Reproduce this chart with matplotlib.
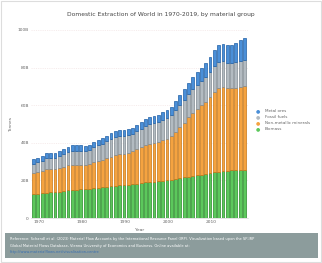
import matplotlib
matplotlib.use("Agg")
import matplotlib.pyplot as plt
from matplotlib.patches import Rectangle
from matplotlib.ticker import FuncFormatter
import numpy as np

years = list(range(1970, 2020))
biomass = [12.8, 13.0, 13.1, 13.5, 13.6, 13.8, 14.0, 14.3, 14.7, 14.9,
           15.0, 15.3, 15.5, 15.6, 16.0, 16.2, 16.4, 16.6, 16.8, 17.2,
           17.5, 17.6, 17.8, 17.9, 18.3, 18.6, 19.0, 19.2, 19.4, 19.6,
           19.8, 20.1, 20.4, 20.8, 21.3, 21.6, 22.0, 22.3, 22.8, 23.0,
           23.4, 24.0, 24.3, 24.7, 25.0, 25.1, 25.3, 25.4, 25.5, 25.7]
non_metallic = [11.2, 11.5, 12.0, 12.6, 12.4, 12.3, 12.6, 12.9, 13.3, 13.4,
                13.3, 13.1, 12.9, 13.2, 13.8, 14.2, 14.7, 15.2, 15.8, 16.2,
                16.4, 16.5, 16.9, 17.6, 18.4, 19.0, 19.6, 20.2, 20.5, 20.9,
                21.5, 22.0, 23.0, 25.0, 27.0, 29.0, 31.5, 33.6, 35.0, 37.0,
                38.5, 40.5, 42.8, 44.5, 44.6, 44.0, 43.8, 44.0, 44.2, 44.3]
fossil = [4.9, 5.1, 5.4, 5.8, 5.9, 6.0, 6.5, 6.9, 7.2, 7.6,
          7.6, 7.4, 7.3, 7.3, 7.8, 8.2, 8.5, 8.9, 9.4, 9.7,
          9.8, 9.6, 9.4, 9.4, 9.6, 9.9, 10.2, 10.5, 10.5, 10.6,
          10.9, 11.2, 11.4, 11.7, 12.0, 12.3, 12.5, 12.7, 12.9, 12.8,
          13.2, 13.3, 13.6, 13.8, 13.8, 13.6, 13.3, 13.5, 14.0, 14.2]
metal = [2.5, 2.5, 2.6, 2.8, 2.8, 2.7, 2.7, 2.7, 2.7, 2.8,
         2.8, 2.8, 2.7, 2.7, 2.8, 2.9, 2.9, 3.0, 3.1, 3.2,
         3.2, 3.1, 3.1, 3.1, 3.3, 3.5, 3.6, 3.8, 3.8, 3.9,
         4.1, 4.2, 4.4, 4.7, 5.1, 5.5, 6.0, 6.5, 6.8, 6.9,
         7.5, 8.0, 8.4, 8.8, 9.3, 9.5, 9.8, 10.3, 11.0, 11.6]

series = [("Biomass", biomass, "#5cc85c", "#278a27"),
          ("Non-metallic minerals", non_metallic, "#f5a340", "#c87614"),
          ("Fossil fuels", fossil, "#b3bbc1", "#7f8990"),
          ("Metal ores", metal, "#4a8fd8", "#1f5fa5")]

yticks = [0, 20, 40, 60, 80, 100]
xticks = [1970, 1980, 1990, 2000, 2010]

fig = plt.figure(figsize=(3.22, 2.63), dpi=100)
fig.patch.set_facecolor("white")
fig.add_artist(Rectangle((0.003, 0.003), 0.994, 0.994, transform=fig.transFigure,
                         fill=False, edgecolor="#dddddd", linewidth=0.8))

ax = fig.add_axes([0.096, 0.171, 0.674, 0.715])
bottom = np.zeros(len(years))
handles = []
for name, vals, col, edge in series:
    ax.bar(years, vals, bottom=bottom, width=0.66, color=col,
           edgecolor=edge, linewidth=0.5, label=name, zorder=2)
    bottom += np.array(vals)
    handles.append((name, col))

ax.set_ylim(0, 100)
ax.set_xlim(1969.4, 2019.8)
ax.set_yticks(yticks)
ax.yaxis.set_major_formatter(FuncFormatter(lambda v, p: "0" if v == 0 else f"{int(v)}B"))
ax.set_xticks(xticks)
ax.tick_params(axis="both", labelsize=3.2, colors="#666666", length=0, pad=1.5)
for lab in ax.get_xticklabels():
    lab.set_horizontalalignment("left")
ax.grid(axis="y", color="#eedddd", linewidth=0.4, linestyle=(0, (2, 2)), zorder=0)
for s in ["top", "right"]:
    ax.spines[s].set_visible(False)
ax.spines["left"].set_visible(False)
ax.spines["bottom"].set_color("#cccccc")
ax.spines["bottom"].set_linewidth(0.4)
ax.set_ylabel("Tonnes", fontsize=3.2, color="#666666", labelpad=3)
ax.set_xlabel("Year", fontsize=3.2, color="#666666", labelpad=3)

fig.text(0.5, 0.945, "Domestic Extraction of World in 1970-2019, by material group",
         ha="center", va="center", fontsize=4.3, color="#444444")

# legend (reversed order)
leg_y = [0.578, 0.555, 0.532, 0.509]
for (name, col), y in zip(reversed(handles), leg_y):
    fig.text(0.802, y, "\u25CF", color=col, fontsize=3.6, ha="center", va="center")
    fig.text(0.822, y, name, color="#666666", fontsize=3.0, ha="left", va="center")

# footer box
fig.add_artist(Rectangle((0.016, 0.02), 0.972, 0.095, transform=fig.transFigure,
                         facecolor="#8c9c9c", edgecolor="none"))
fig.text(0.03, 0.093,
         "Reference: Schandl et al. (2023) Material Flow Accounts by the International Resource Panel (IRP). Visualization based upon the SP-IRP",
         fontsize=2.6, color="white", ha="left", va="center")
fig.text(0.03, 0.066,
         "Global Material Flows Database, Vienna University of Economics and Business. Online available at:",
         fontsize=2.6, color="white", ha="left", va="center")
fig.text(0.03, 0.040, "http://www.materialflows.net/visualisation-centre",
         fontsize=2.6, color="#3a6fb0", ha="left", va="center")

fig.savefig("out.png", dpi=100)
